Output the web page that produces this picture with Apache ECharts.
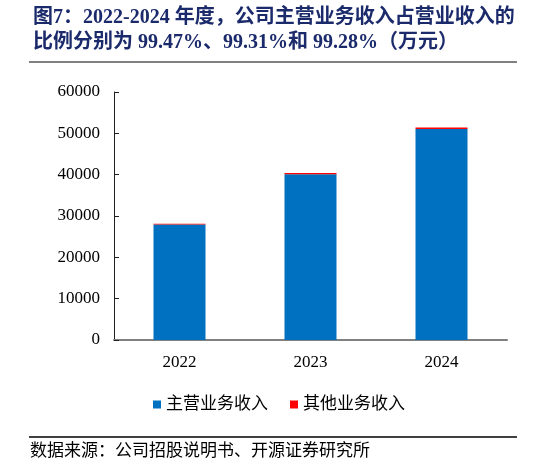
<!DOCTYPE html>
<html>
<head>
<meta charset="utf-8">
<script src="https://cdn.jsdelivr.net/npm/echarts@6/dist/echarts.min.js"></script>
<style>
  html, body { margin: 0; padding: 0; background: #fff; }
  #main { width: 546px; height: 467px; }
</style>
</head>
<body>
<div id="main"></div>
<script>
// 年份 & 收入数据（万元）
const years = ['2022', '2023', '2024']
const mainIncome = [27950, 40120, 51070]   // 主营业务收入
const otherIncome = [150, 280, 370]        // 其他业务收入
const seriesNames = ['主营业务收入', '其他业务收入']

const titleText = '图7：2022-2024 年度，公司主营业务收入占营业收入的\n比例分别为 99.47%、99.31%和 99.28%（万元）'
const sourceText = '数据来源：公司招股说明书、开源证券研究所'

const serif = '"Liberation Serif", "Times New Roman", serif'
const cjk = '"Liberation Serif", "Noto Sans CJK SC", serif'

const chart = echarts.init(document.getElementById('main'))

const option = {
  animation: false,
  title: {
    text: titleText,
    left: 28,
    top: 0,
    textStyle: {
      fontFamily: cjk,
      fontSize: 20,
      fontWeight: 'bold',
      color: '#1B2A6B',
      lineHeight: 25
    }
  },
  legend: {
    data: seriesNames,
    left: 148,
    top: 391,
    icon: 'rect',
    itemWidth: 8,
    itemHeight: 8,
    itemGap: 22,
    textStyle: {
      fontFamily: cjk,
      fontSize: 17,
      color: '#000'
    }
  },
  grid: {
    left: 114,
    right: 39,
    top: 92,
    bottom: 127
  },
  xAxis: {
    type: 'category',
    data: years,
    axisLine: { lineStyle: { color: '#808080', width: 2 } },
    axisTick: { inside: true, length: 5, lineStyle: { color: '#404040' } },
    axisLabel: { fontFamily: serif, fontSize: 17, color: '#000', margin: 14 }
  },
  yAxis: {
    type: 'value',
    min: 0,
    max: 60000,
    interval: 10000,
    splitLine: { show: false },
    axisLine: { show: true, lineStyle: { color: '#202020', width: 1 } },
    axisTick: { show: true, inside: true, length: 5, lineStyle: { color: '#202020' } },
    axisLabel: {
      fontFamily: serif,
      fontSize: 17,
      color: '#000',
      margin: 14,
      formatter: v => String(v)
    }
  },
  series: [
    {
      name: seriesNames[0],
      type: 'bar',
      stack: 'total',
      barWidth: 52,
      itemStyle: { color: '#0070C0' },
      data: mainIncome
    },
    {
      name: seriesNames[1],
      type: 'bar',
      stack: 'total',
      barWidth: 52,
      itemStyle: { color: '#FF0000' },
      data: otherIncome
    }
  ],
  graphic: [
    // 标题下的灰线
    {
      type: 'line',
      shape: { x1: 29, y1: 62, x2: 517, y2: 62 },
      style: { stroke: '#808080', lineWidth: 2 }
    },
    // 底部黑线
    {
      type: 'line',
      shape: { x1: 29, y1: 437, x2: 517, y2: 437 },
      style: { stroke: '#000', lineWidth: 1.5 }
    },
    {
      type: 'text',
      left: 30,
      top: 443,
      style: {
        text: sourceText,
        fontFamily: cjk,
        fontSize: 17,
        fill: '#000'
      }
    }
  ]
}

chart.setOption(option)
</script>
</body>
</html>
